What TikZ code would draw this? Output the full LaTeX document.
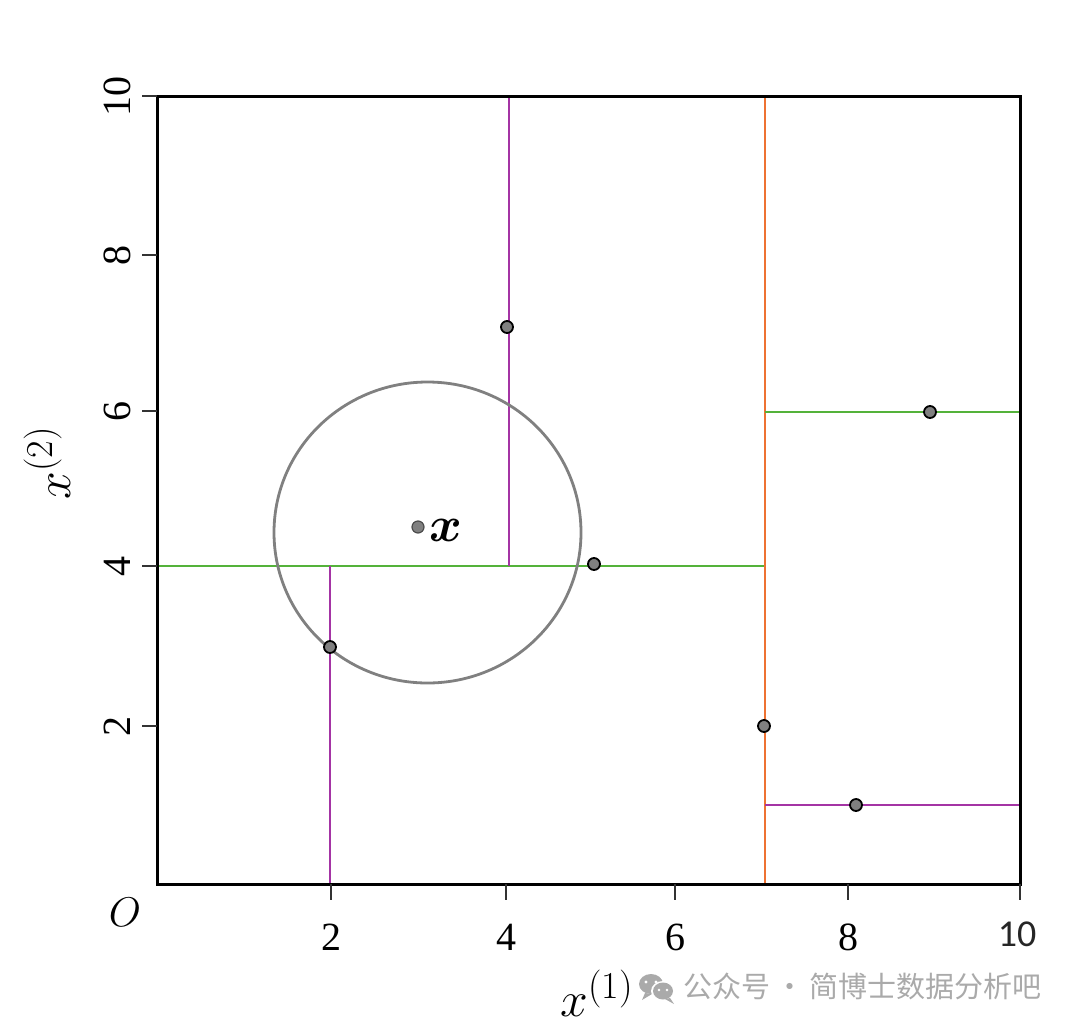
\documentclass[tikz,border=0pt]{standalone}
\usepackage{fontspec}
\usepackage{amsmath,bm}
\newfontfamily\cjk{Noto Sans CJK SC}
\newfontfamily\carl{Carlito}
\newfontfamily\digitfont{Liberation Serif}
\definecolor{splitgreen}{RGB}{84,178,58}
\definecolor{splitpurple}{RGB}{164,52,164}
\definecolor{splitorange}{RGB}{238,114,50}
\definecolor{ptgray}{RGB}{128,128,128}
\definecolor{wmgray}{RGB}{170,170,170}
\begin{document}
\begin{tikzpicture}[x=0.5pt,y=-0.5pt,
  frame/.style={line width=1.5pt,black},
  tickmark/.style={line width=0.7pt,black!80},
  gline/.style={line width=1.45pt,splitgreen},
  pline/.style={line width=1.45pt,splitpurple},
  oline/.style={line width=1.45pt,splitorange},
  datapt/.style={circle,inner sep=0pt,minimum size=6pt,fill=ptgray,draw=black,line width=0.9pt},
  querypt/.style={circle,inner sep=0pt,minimum size=6pt,fill=ptgray,draw=black!70,line width=0.6pt},
  ticklab/.style={font=\digitfont\fontsize{20}{22}\selectfont,inner sep=0pt},
]
\useasboundingbox (0,0) rectangle (1080,1028);

% split lines
\draw[gline] (157,566) -- (765,566);
\draw[oline] (765,96) -- (765,884);
\draw[pline] (509,96) -- (509,566);
\draw[pline] (330,566) -- (330,884);
\draw[gline] (765,412) -- (1020,412);
\draw[pline] (765,805) -- (1020,805);

% neighbourhood circle
\draw[line width=1.4pt,ptgray] (427.5,532.5) ellipse [x radius=153.5,y radius=150.5];

% frame
\draw[frame] (157,96) rectangle (1020,884);

% ticks
\foreach \xx in {331,506,675,848,1020} \draw[tickmark] (\xx,884) -- (\xx,900);
\foreach \yy in {96,255,411,566,726} \draw[tickmark] (142,\yy) -- (157,\yy);

% tick labels
\node[ticklab] (tx2) at (331,937) {2};
\node[ticklab] (tx4) at (506,937) {4};
\node[ticklab] (tx6) at (675,937) {6};
\node[ticklab] (tx8) at (848,937) {8};
\node[inner sep=0pt,text=black!85,font=\carl\fontsize{19}{22}\selectfont] (tx10) at (1017,934) {10};
\node[ticklab,rotate=90] (ty10) at (117,96) {10};
\node[ticklab,rotate=90] (ty8) at (117,255) {8};
\node[ticklab,rotate=90] (ty6) at (117,411) {6};
\node[ticklab,rotate=90] (ty4) at (117,566) {4};
\node[ticklab,rotate=90] (ty2) at (117,726) {2};
\node[inner sep=0pt,font=\fontsize{20}{22}\selectfont] (orig) at (125,912) {$O$};

% axis labels
\node[inner sep=0pt,font=\fontsize{27}{30}\selectfont] (xlab) at (597,993) {$x^{\mbox{\fontsize{19}{22}\selectfont(1)}}$};
\node[inner sep=0pt,font=\fontsize{27}{30}\selectfont,rotate=90] (ylab) at (47,463) {$x^{\mbox{\fontsize{19}{22}\selectfont(2)}}$};

% data points
\node[datapt] (p1) at (330,647) {};
\node[datapt] (p2) at (507,327) {};
\node[datapt] (p3) at (594,564) {};
\node[datapt] (p4) at (764,726) {};
\node[datapt] (p5) at (856,805) {};
\node[datapt] (p6) at (930,412) {};
\node[querypt] (q) at (418,527) {};
\node[inner sep=0pt,font=\fontsize{24}{28}\selectfont] (qlab) at (446,530) {$\bm{x}$};

% watermark
\fill[wmgray] (651,984) ellipse [x radius=12,y radius=10];
\fill[wmgray] (645,993) -- (642,1000) -- (652,994) -- cycle;
\fill[white] (663,991) ellipse [x radius=12,y radius=10];
\fill[wmgray] (663,991) ellipse [x radius=10,y radius=8.5];
\fill[wmgray] (670,998) -- (674,1004) -- (665,999) -- cycle;
\fill[white] (646,982) circle [radius=1.6];
\fill[white] (656,982) circle [radius=1.6];
\fill[white] (659,990) circle [radius=1.4];
\fill[white] (667,990) circle [radius=1.4];
\node[inner sep=0pt,anchor=west,text=wmgray,font=\cjk\fontsize{14.5}{17}\selectfont] (wm) at (683,986) {公众号\,·\,简博士数据分析吧};
\end{tikzpicture}
\end{document}
